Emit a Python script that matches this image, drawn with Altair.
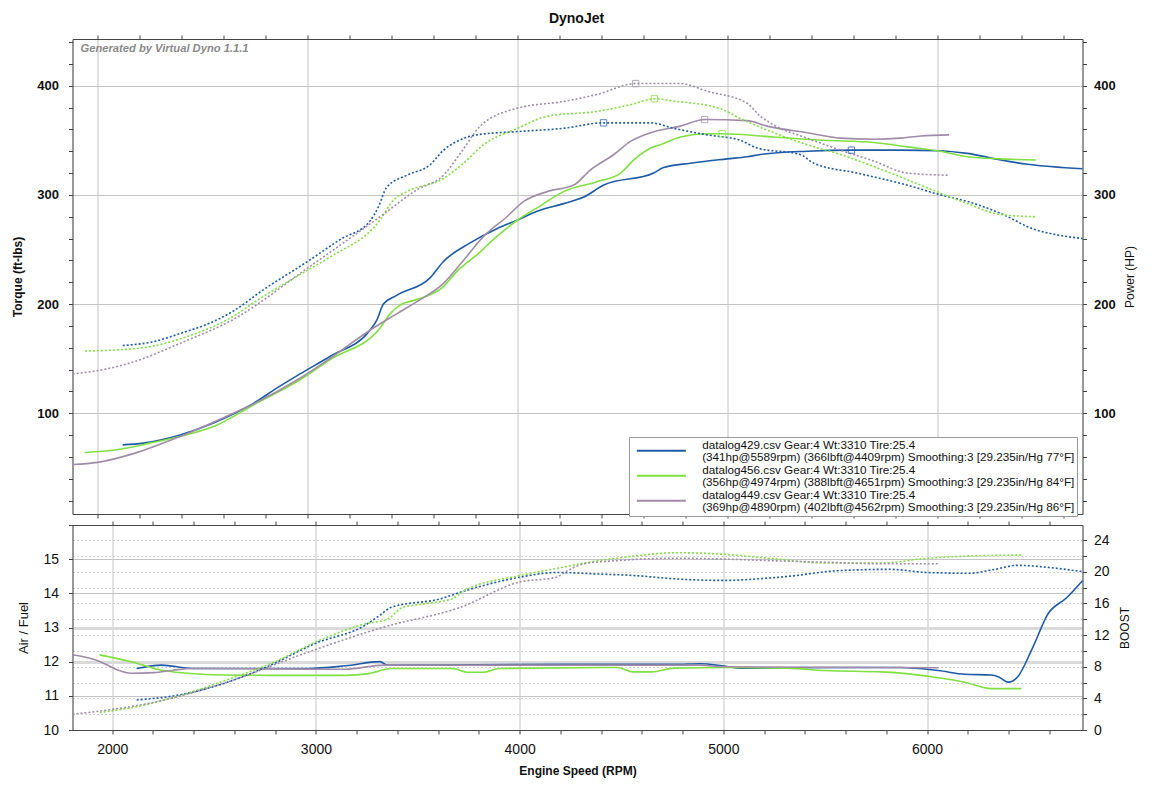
import json
import altair as alt
import pandas as pd

FONT = "Liberation Sans"
SERIES = ["datalog429", "datalog456", "datalog449"]
COLORS = ["#1d5ba6", "#7fe040", "#a08ca8"]
LEGEND_LINE1 = [
    "datalog429.csv Gear:4 Wt:3310 Tire:25.4",
    "datalog456.csv Gear:4 Wt:3310 Tire:25.4",
    "datalog449.csv Gear:4 Wt:3310 Tire:25.4",
]
LEGEND_LINE2 = [
    "(341hp@5589rpm) (366lbft@4409rpm) Smoothing:3 [29.235in/Hg 77°F]",
    "(356hp@4974rpm) (388lbft@4651rpm) Smoothing:3 [29.235in/Hg 84°F]",
    "(369hp@4890rpm) (402lbft@4562rpm) Smoothing:3 [29.235in/Hg 86°F]",
]
TITLE = "DynoJet"
GENERATED = "Generated by Virtual Dyno 1.1.1"

# ---- top panel: torque (dotted) ----
TQ429_RPM = [2120, 2266, 2393, 2552, 2650, 2789, 3000, 3154, 3297, 3337, 3377, 3472, 3583, 3647, 3711, 3806,
             4000, 4219, 4409, 4633, 4743, 4902, 5060, 5140, 5346, 5410, 5616, 5854, 6013, 6141, 6300, 6459, 6580, 6689]
TQ429 = [162, 165.5, 173, 184, 194, 213, 239, 259, 276, 289, 307, 318, 327.5, 341, 349, 355,
         358, 361, 366, 366, 361, 355, 350, 343, 337, 329, 320, 309, 300, 294, 283, 268.5, 263, 260]
TQ456_RPM = [1940, 2091, 2250, 2424, 2630, 2789, 3000, 3106, 3345, 3408, 3472, 3647, 3742, 3838, 4000, 4140,
             4378, 4537, 4651, 4743, 4965, 5060, 5219, 5378, 5537, 5695, 5854, 6013, 6141, 6300, 6467]
TQ456 = [157, 158, 161, 170, 187, 207, 231, 243, 277, 295, 303, 315, 329, 346, 361, 372,
         376.5, 382.6, 388, 386, 379, 370, 357, 346, 337, 326, 314, 301.5, 292, 282, 280]
TQ449_RPM = [1882, 2000, 2171, 2393, 2647, 3000, 3345, 3520, 3647, 3727, 3822, 4000, 4219, 4378, 4562, 4775,
             4902, 5092, 5156, 5219, 5378, 5537, 5695, 5854, 6054]
TQ449 = [136, 139, 147, 164, 186, 233, 280, 304.6, 318, 338, 363, 379.5, 385.6, 392, 402, 402,
         395, 384, 372, 364, 352, 341, 331, 320, 318]

# ---- top panel: power (solid) ----
HP429_RPM = [2120, 2218, 2393, 2552, 2742, 2853, 2964, 3106, 3297, 3329, 3361, 3424, 3583, 3647, 3774, 3901,
             4000, 4092, 4219, 4315, 4410, 4648, 4695, 4822, 4997, 5092, 5156, 5378, 5589, 5824, 6000, 6141,
             6300, 6427, 6689]
HP429 = [71, 72.6, 80, 91, 109, 123, 136, 152, 176, 185, 200, 208, 224, 239, 256, 269,
         277, 285, 292, 298, 309, 320, 325, 329, 333, 335, 337, 340, 341, 341, 340.5, 338,
         332, 328, 324]
HP456_RPM = [1940, 2091, 2250, 2393, 2567, 2742, 2964, 3106, 3345, 3393, 3440, 3536, 3647, 3711, 3806, 3901,
             4000, 4108, 4219, 4378, 4490, 4553, 4633, 4679, 4775, 4902, 4974, 5219, 5457, 5695, 5854, 6013,
             6141, 6300, 6467]
HP456 = [64, 66.5, 72.6, 78.7, 89, 107.6, 130.5, 149, 178, 191, 199, 205, 216, 230, 245, 262,
         277, 290, 303, 312, 320, 332, 343, 346, 353, 356, 356, 353, 350, 348, 344, 340,
         335, 333, 332]
HP449_RPM = [1882, 2000, 2171, 2393, 2647, 2742, 2964, 3106, 3297, 3424, 3536, 3647, 3742, 3838, 3949, 4029,
             4140, 4267, 4347, 4458, 4537, 4633, 4775, 4890, 5092, 5187, 5378, 5537, 5695, 5822, 5919, 6054]
HP449 = [53, 55, 63, 78.7, 100, 108.5, 132, 150, 176, 191, 204, 219, 240, 262, 280, 294,
         303, 309, 323, 337, 349, 357, 363, 369, 368, 363, 357, 352, 351, 352, 354, 355]

# ---- peak markers (from legend) ----
PEAK_TQ_RPM = [4409, 4651, 4562]
PEAK_TQ = [366, 388, 402]
PEAK_HP_RPM = [5589, 4974, 4890]
PEAK_HP = [341, 356, 369]

# ---- bottom panel: air/fuel (solid) ----
AF429_RPM = [2120, 2242, 2393, 2957, 3145, 3314, 3351, 4204, 4759, 4889, 5000, 5093, 5315, 5870, 6056, 6185,
             6315, 6352, 6398, 6444, 6519, 6593, 6685, 6763]
AF429 = [11.8, 11.9, 11.8, 11.8, 11.88, 12.0, 11.9, 11.92, 11.92, 11.94, 11.87, 11.81, 11.82, 11.83, 11.74, 11.63,
         11.61, 11.55, 11.4, 11.55, 12.42, 13.39, 13.87, 14.37]
AF456_RPM = [1938, 2111, 2242, 2543, 2769, 3145, 3258, 3370, 3671, 3746, 3821, 3897, 4481, 4556, 4648, 4759,
             5000, 5315, 5500, 5778, 6056, 6185, 6315, 6463]
AF456 = [12.2, 11.97, 11.75, 11.61, 11.6, 11.6, 11.65, 11.8, 11.8, 11.69, 11.69, 11.8, 11.83, 11.7, 11.7, 11.81,
         11.83, 11.81, 11.74, 11.7, 11.53, 11.4, 11.21, 11.21]
AF449_RPM = [1805, 1942, 2017, 2092, 2205, 2299, 2393, 3145, 3333, 4759, 4889, 5000, 6056]
AF449 = [12.2, 12.0, 11.78, 11.66, 11.68, 11.75, 11.8, 11.78, 11.9, 11.9, 11.9, 11.85, 11.82]

# ---- bottom panel: boost (dotted) ----
BO429_RPM = [2120, 2299, 2487, 2769, 2994, 3239, 3314, 3370, 3615, 3709, 4000, 4179, 4389, 4574, 4759, 5000,
             5222, 5352, 5500, 5685, 5815, 6000, 6204, 6333, 6444, 6611, 6763]
BO429 = [3.8, 4.3, 5.4, 8.1, 10.9, 13.2, 14.5, 15.5, 16.6, 17.4, 19.3, 19.9, 19.7, 19.5, 19.1, 18.9,
         19.2, 19.5, 20.0, 20.25, 20.3, 19.9, 19.8, 20.3, 20.8, 20.5, 20.0]
BO456_RPM = [1938, 2111, 2299, 2581, 2769, 3051, 3239, 3351, 3427, 3521, 3671, 3727, 4000, 4179, 4389, 4574,
             4759, 5000, 5222, 5500, 5778, 6000, 6241, 6463]
BO456 = [2.2, 2.9, 4.1, 6.5, 8.3, 11.7, 13.4, 14.0, 15.5, 15.9, 16.6, 17.6, 19.5, 20.4, 21.4, 22.0,
         22.4, 22.2, 21.7, 21.1, 21.1, 21.7, 22.0, 22.1]
BO449_RPM = [1805, 1942, 2205, 2581, 2957, 3333, 3709, 4000, 4179, 4240, 4315, 4481, 4759, 5000, 5222, 5500,
             5778, 6056]
BO449 = [2.0, 2.4, 3.5, 6.2, 9.8, 13.0, 15.5, 18.7, 19.3, 20.2, 21.0, 21.4, 21.7, 21.6, 21.4, 21.2,
         21.0, 21.0]

TOP_X_DOMAIN = [1881, 6689]
BOT_X_DOMAIN = [1805, 6763]
TQ_DOMAIN = [7.7, 442.8]
AF_DOMAIN = [10, 16]
BOOST_DOMAIN = [0, 25.9]
X_TICKS = list(range(2000, 6601, 200))
TQ_TICKS = list(range(20, 441, 20))
AF_TICKS = [10 + 0.5 * i for i in range(13)]
BOOST_TICKS = list(range(0, 25, 2))


def long(pairs, name):
    rows = []
    for s, rpm, vals in pairs:
        for r, v in zip(rpm, vals):
            rows.append({"series": s, "rpm": r, name: v})
    return pd.DataFrame(rows)


tq_df = long([(SERIES[0], TQ429_RPM, TQ429), (SERIES[1], TQ456_RPM, TQ456), (SERIES[2], TQ449_RPM, TQ449)], "val")
hp_df = long([(SERIES[0], HP429_RPM, HP429), (SERIES[1], HP456_RPM, HP456), (SERIES[2], HP449_RPM, HP449)], "val")
af_df = long([(SERIES[0], AF429_RPM, AF429), (SERIES[1], AF456_RPM, AF456), (SERIES[2], AF449_RPM, AF449)], "af")
bo_df = long([(SERIES[0], BO429_RPM, BO429), (SERIES[1], BO456_RPM, BO456), (SERIES[2], BO449_RPM, BO449)], "boost")
pk_df = pd.DataFrame({
    "series": SERIES + SERIES,
    "rpm": PEAK_TQ_RPM + PEAK_HP_RPM,
    "val": PEAK_TQ + PEAK_HP,
})

label_map = " : ".join(
    f"datum.label == {json.dumps(s)} ? {json.dumps([a, b], ensure_ascii=False)}"
    for s, a, b in zip(SERIES, LEGEND_LINE1, LEGEND_LINE2)
) + " : datum.label"

color_scale = alt.Scale(domain=SERIES, range=COLORS)
GRID = "#c4c4c4"
AXC = "#444444"


def xscale(dom):
    return alt.Scale(domain=dom, nice=False, zero=False)


tq_scale = alt.Scale(domain=TQ_DOMAIN, nice=False, zero=False)

common_axis = dict(domainColor=AXC, tickColor=AXC, tickSize=4, labelFont=FONT, titleFont=FONT,
                   labelColor="#111", titleColor="#111")

x_grid_cond = {"condition": {"test": "datum.value % 1000 === 0", "value": 1}, "value": 0}
y100_cond = {"condition": {"test": "datum.value % 100 === 0", "value": 1}, "value": 0}

# a wide line sample drawn with a tiny symbol size, so that the legend rows stay compact
legend_spec = alt.Legend(orient="none", legendX=556.5, legendY=398, title=None,
                         symbolType="M0,2H16.33", symbolSize=36, symbolStrokeWidth=2, symbolDash=[1, 0],
                         labelFont=FONT, labelFontSize=11.7, labelColor="#111",
                         labelExpr=label_map, labelLimit=0, labelOffset=59.5,
                         padding=2, rowPadding=0, strokeColor="#999", fillColor="white",
                         direction="vertical")

# top panel layers
hp_layer = alt.Chart(hp_df).mark_line(strokeWidth=1.6, interpolate="monotone").encode(
    x=alt.X("rpm:Q", scale=xscale(TOP_X_DOMAIN),
            axis=alt.Axis(orient="top", values=X_TICKS, labels=False, title=None, grid=False, **common_axis)),
    y=alt.Y("val:Q", scale=tq_scale,
            axis=alt.Axis(orient="right", values=TQ_TICKS, labelExpr="datum.value % 100 === 0 ? datum.label : ''",
                          title="Power (HP)", titleFontSize=12, titleFontWeight="normal", titlePadding=9,
                          titleAngle=270, titleBaseline="top",
                          labelFontSize=13, labelFontWeight="bold", labelPadding=7, grid=False, **common_axis)),
    color=alt.Color("series:N", scale=color_scale, legend=legend_spec),
)

tq_layer = alt.Chart(tq_df).mark_line(strokeDash=[2, 2], strokeWidth=1.6, interpolate="monotone").encode(
    x=alt.X("rpm:Q", scale=xscale(TOP_X_DOMAIN),
            axis=alt.Axis(orient="bottom", values=X_TICKS, labels=False, title=None, grid=True,
                          gridOpacity=x_grid_cond, gridColor=GRID, **common_axis)),
    y=alt.Y("val:Q", scale=tq_scale,
            axis=alt.Axis(orient="left", values=TQ_TICKS, labelExpr="datum.value % 100 === 0 ? datum.label : ''",
                          title="Torque (ft-lbs)", titleFontSize=12, titleFontWeight="bold", titlePadding=12,
                          labelFontSize=13, labelFontWeight="bold", labelPadding=10, grid=True,
                          gridOpacity=y100_cond, gridColor=GRID, **common_axis)),
    color=alt.Color("series:N", scale=color_scale, legend=legend_spec),
)

pk_layer = alt.Chart(pk_df).mark_point(shape="square", filled=False, size=40, strokeWidth=1, opacity=0.75).encode(
    x=alt.X("rpm:Q", scale=xscale(TOP_X_DOMAIN), axis=None),
    y=alt.Y("val:Q", scale=tq_scale, axis=None),
    stroke=alt.Stroke("series:N", scale=color_scale, legend=None),
)

gen_layer = alt.Chart(pd.DataFrame({"t": [GENERATED]})).mark_text(
    align="left", baseline="middle", font=FONT, fontStyle="italic", fontWeight="bold",
    fontSize=11.2, color="#8a8a8a").encode(text="t:N", x=alt.value(8), y=alt.value(10))

top = alt.layer(hp_layer, tq_layer, pk_layer, gen_layer).resolve_axis(
    x="independent", y="independent").properties(width=1010, height=475)

# bottom panel layers
af_layer = alt.Chart(af_df).mark_line(strokeWidth=1.6, interpolate="monotone").encode(
    x=alt.X("rpm:Q", scale=xscale(BOT_X_DOMAIN),
            axis=alt.Axis(orient="bottom", values=X_TICKS, labelExpr="datum.value % 1000 === 0 ? datum.label : ''",
                          format="d", title="Engine Speed (RPM)", titleFontSize=12, titleFontWeight="bold",
                          titlePadding=9, labelFontSize=14, labelPadding=8, grid=True,
                          gridOpacity=x_grid_cond, gridColor=GRID, **common_axis)),
    y=alt.Y("af:Q", scale=alt.Scale(domain=AF_DOMAIN, nice=False, zero=False),
            axis=alt.Axis(orient="left", values=AF_TICKS, format="d",
                          labelExpr="datum.value % 1 === 0 && datum.value < 16 ? datum.label : ''",
                          title="Air / Fuel", titleFontSize=13, titleFontWeight="normal", titlePadding=12,
                          labelFontSize=14, labelPadding=10, grid=True,
                          gridOpacity={"condition": {"test": "datum.value % 1 === 0", "value": 1}, "value": 0},
                          gridWidth={"condition": {"test": "datum.value == 12 || datum.value == 13", "value": 3}, "value": 1},
                          gridColor={"condition": {"test": "datum.value == 12 || datum.value == 13", "value": "#dadada"}, "value": GRID},
                          **common_axis)),
    color=alt.Color("series:N", scale=color_scale, legend=None),
)

bo_layer = alt.Chart(bo_df).mark_line(strokeDash=[2, 2], strokeWidth=1.6, interpolate="monotone").encode(
    x=alt.X("rpm:Q", scale=xscale(BOT_X_DOMAIN),
            axis=alt.Axis(orient="top", values=X_TICKS, labels=False, title=None, grid=False, **common_axis)),
    y=alt.Y("boost:Q", scale=alt.Scale(domain=BOOST_DOMAIN, nice=False, zero=False),
            axis=alt.Axis(orient="right", values=BOOST_TICKS,
                          labelExpr="datum.value % 4 === 0 ? datum.label : ''",
                          title="BOOST", titleFontSize=12, titleFontWeight="normal", titlePadding=10,
                          titleAngle=270, titleBaseline="top",
                          labelFontSize=14, labelPadding=7, grid=True, gridDash=[1.5, 2.5],
                          gridColor="#c8c8c8", **common_axis)),
    color=alt.Color("series:N", scale=color_scale, legend=None),
)

bottom = alt.layer(af_layer, bo_layer).resolve_scale(y="independent").resolve_axis(
    x="independent").properties(width=1010, height=205)

chart = alt.vconcat(top, bottom, spacing=1).resolve_scale(
    x="independent", y="independent", color="independent", stroke="independent"
).resolve_legend(color="independent").properties(
    title=alt.TitleParams(TITLE, font=FONT, fontSize=14, fontWeight="bold", anchor="middle", offset=8,
                          dx=3, color="#111"),
    padding={"left": 2.5, "top": 4, "right": 5, "bottom": 5},
).configure_view(stroke=AXC, strokeWidth=1).configure(
    background="white", style={"guide-label": {"lineHeight": 12.3}})

chart.save("out.html", embed_options={"renderer": "svg", "actions": False})
